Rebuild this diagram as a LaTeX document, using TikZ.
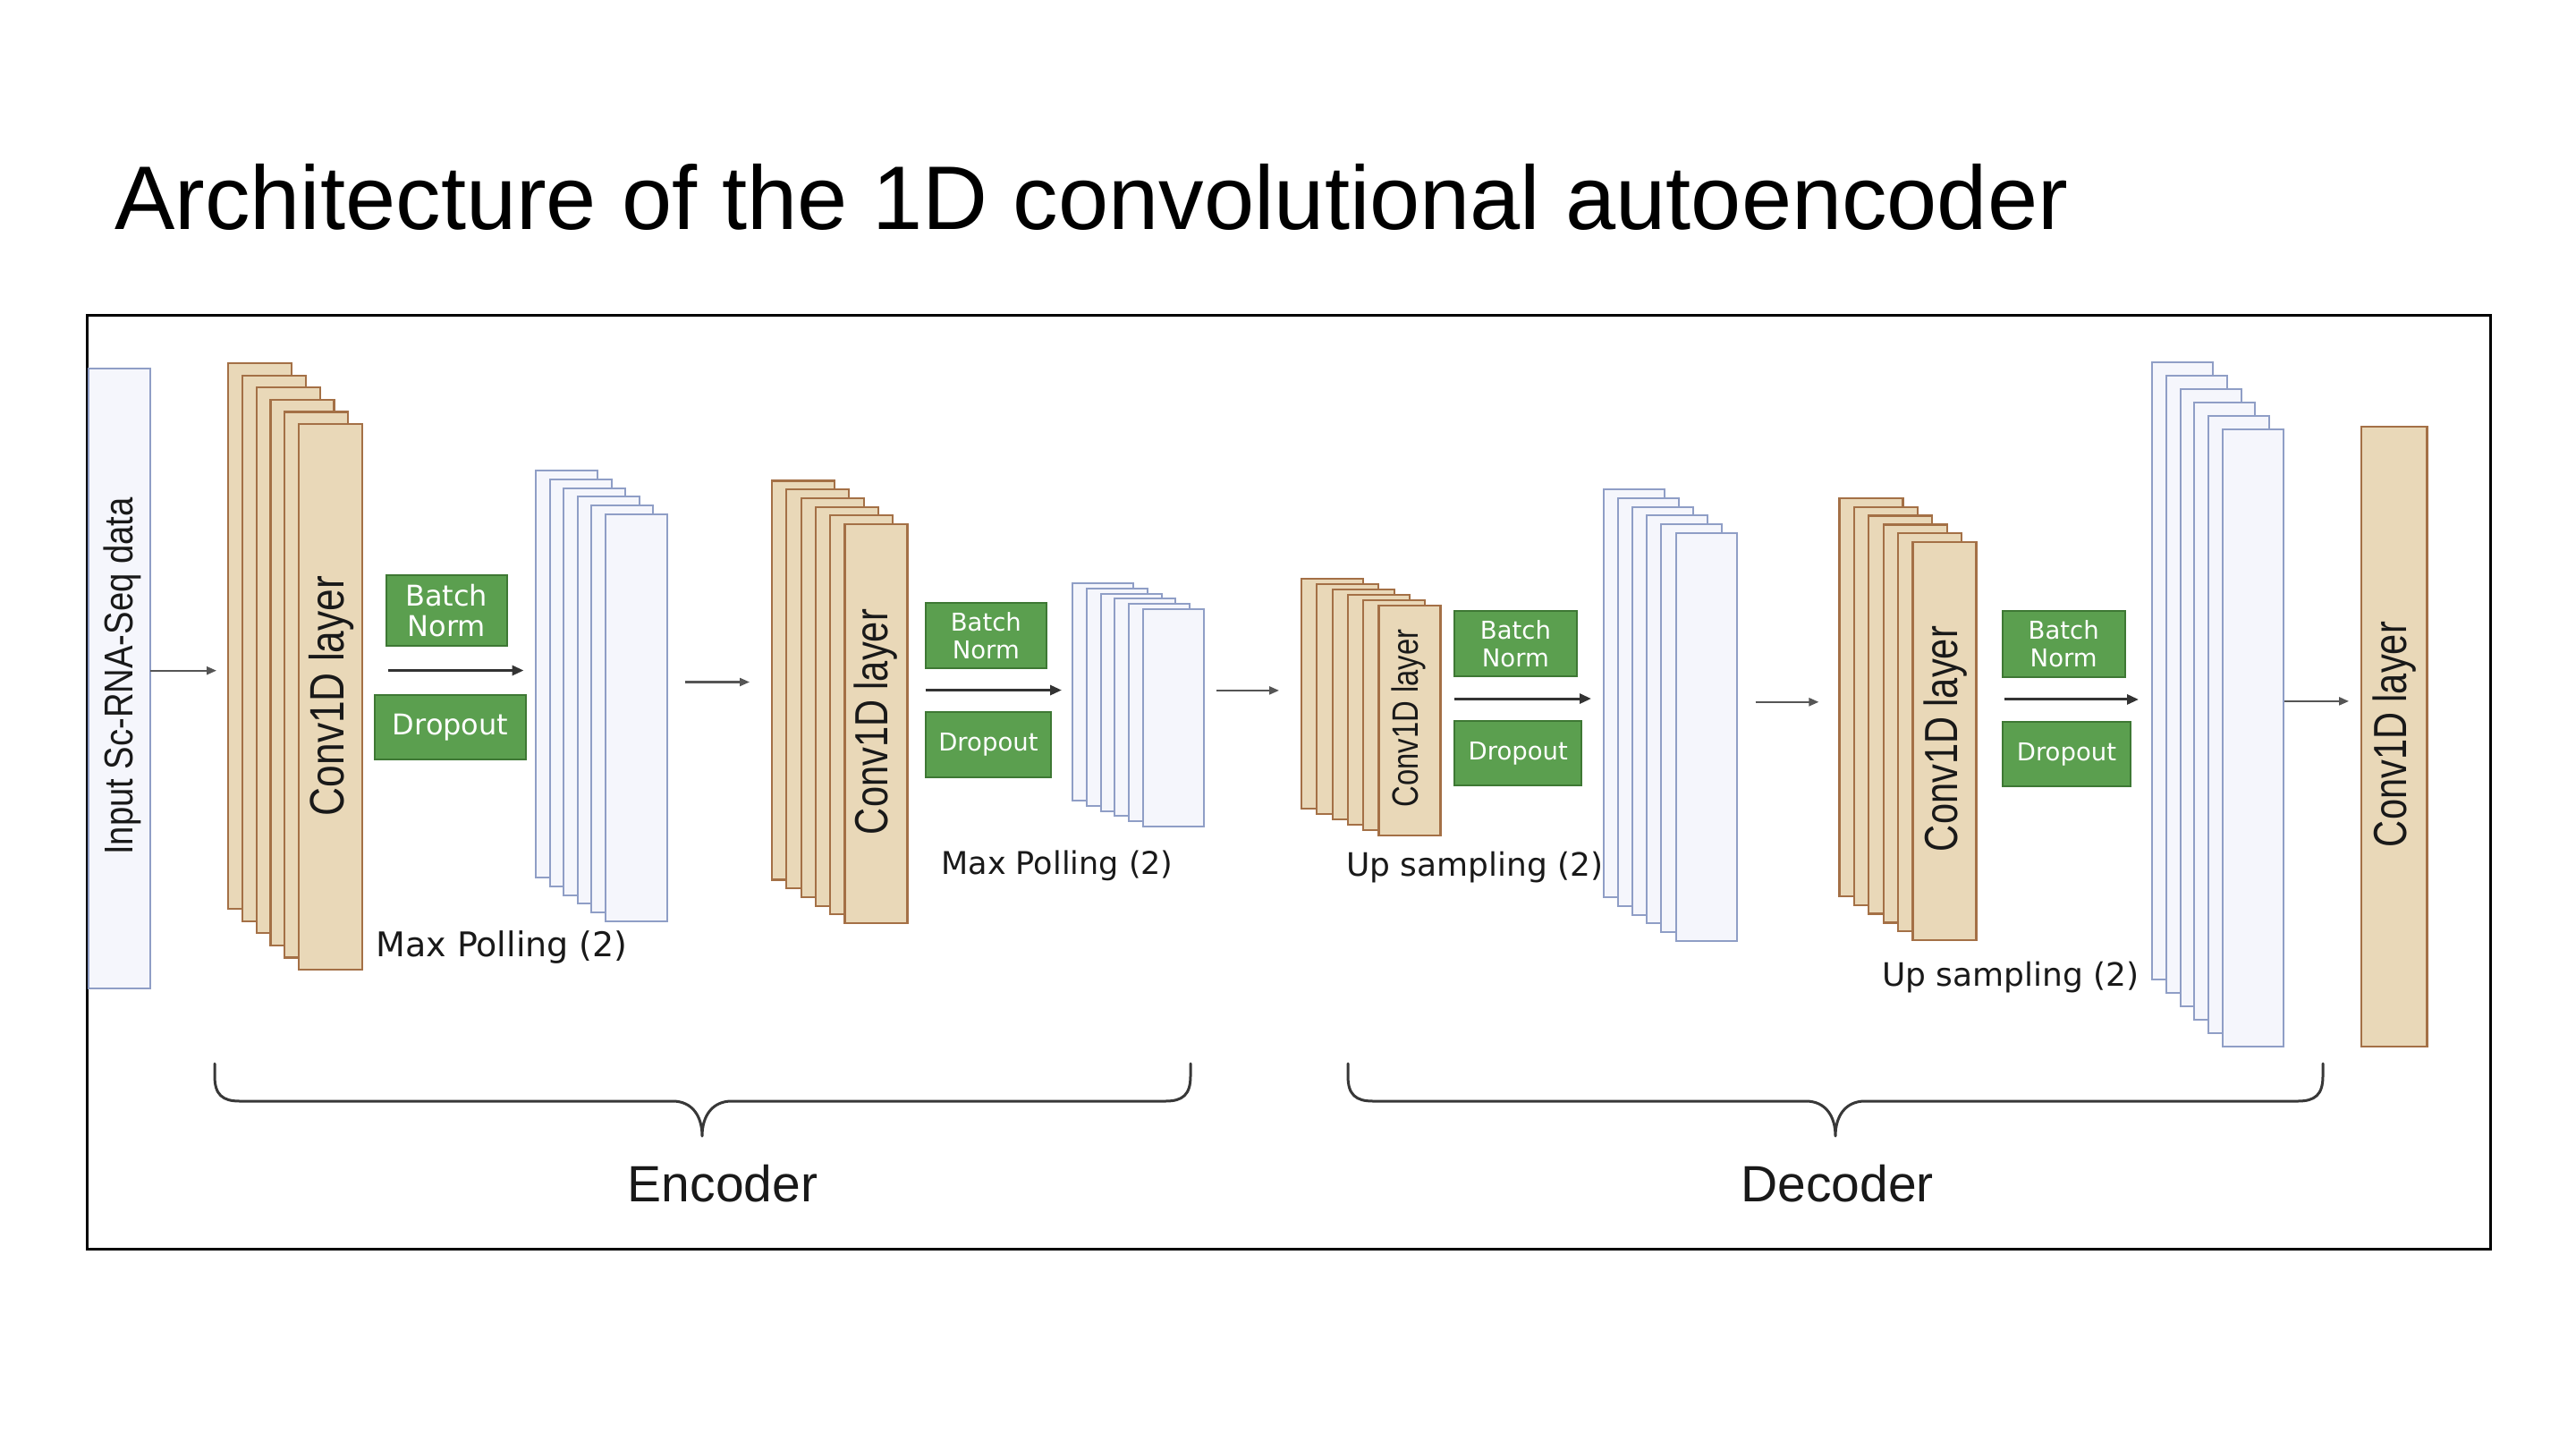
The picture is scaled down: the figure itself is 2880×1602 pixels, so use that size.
\documentclass[tikz,border=0pt]{standalone}
\usepackage{fontspec}
\setmainfont{Liberation Sans}
\newfontfamily\dv{DejaVu Sans}
\usetikzlibrary{arrows.meta,calc}
\definecolor{beigeF}{RGB}{233,216,184}
\definecolor{beigeD}{RGB}{164,112,70}
\definecolor{blueF}{RGB}{245,246,252}
\definecolor{blueD}{RGB}{143,158,198}
\definecolor{greenF}{RGB}{91,159,79}
\definecolor{greenD}{RGB}{62,120,52}
\definecolor{arrC}{RGB}{51,51,51}
\definecolor{arrL}{RGB}{85,85,85}
\definecolor{txtC}{RGB}{25,25,25}
\tikzset{
  convlay/.style={draw=beigeD, fill=beigeF, line width=2.2bp, inner sep=0pt, outer sep=0pt},
  poollay/.style={draw=blueD, fill=blueF, line width=2bp, inner sep=0pt, outer sep=0pt},
  greenbox/.style={draw=greenD, fill=greenF, line width=2bp, inner sep=0pt, outer sep=0pt, text=white, align=center},
  arrin/.style={draw=arrC, line width=3bp, -{Triangle[length=13bp,width=11bp]}},
  arrout/.style={draw=arrL, line width=2.2bp, -{Triangle[length=11bp,width=9bp]}},
  bracepath/.style={draw=black!78, line width=3bp, line cap=round, line join=round},
  vlabel/.style={rotate=90, text=txtC, inner sep=0pt},
  caption/.style={text=txtC, inner sep=0pt, font=\dv\fontsize{36bp}{40bp}\selectfont},
}
\newcommand\mkstack[8]{%
  \foreach \i in {1,...,6}{%
    \node[#8, minimum width=#6bp, minimum height=#7bp, anchor=north west] (#1\i) at ({#2+(\i-1)*#4},{#3+(\i-1)*#5}) {};
  }%
}
\begin{document}
\begin{tikzpicture}[x=1bp,y=-1bp]
\fill[white] (0,0) rectangle (2880,1602);
\useasboundingbox (0,0) rectangle (2880,1602);

% title
\node[anchor=base west, inner sep=0pt] (title) at (128,256) {\fontsize{101bp}{120bp}\selectfont Architecture of the 1D convolutional autoencoder};

% frame
\node[draw=black, line width=2.5bp, minimum width=2687bp, minimum height=1044bp, anchor=north west, inner sep=0pt] (frame) at (96,351) {};

% input
\node[poollay, minimum width=69bp, minimum height=693bp] (inp) at (133.5,758.5) {};
\node[vlabel] (tin) at (137,756) {\scalebox{0.85}[1]{\fontsize{45bp}{50bp}\selectfont Input Sc-RNA-Seq data}};

% stacks
\mkstack{convA}{255}{406}{15.8}{13.6}{71}{610}{convlay}
\mkstack{poolA}{599}{526}{15.6}{9.8}{69}{455}{poollay}
\mkstack{convB}{863}{537.5}{16.3}{9.7}{70}{446}{convlay}
\mkstack{poolB}{1199}{652}{15.8}{5.8}{68}{243}{poollay}
\mkstack{convC}{1455}{646.7}{17.3}{6.1}{69}{257}{convlay}
\mkstack{poolC}{1793}{547}{16.1}{9.8}{68}{456}{poollay}
\mkstack{convD}{2056.4}{556.7}{16.4}{9.9}{71}{445}{convlay}
\mkstack{poolD}{2406}{405}{15.8}{14.9}{68}{690}{poollay}

% final conv
\node[convlay, minimum width=73.5bp, minimum height=693bp] (fin) at (2676.8,823.2) {};

% conv labels
\node[vlabel] (tA) at (371,778) {\scalebox{0.82}[1]{\fontsize{54bp}{60bp}\selectfont Conv1D layer}};
\node[vlabel] (tB) at (979,807) {\scalebox{0.8}[1]{\fontsize{52bp}{60bp}\selectfont Conv1D layer}};
\node[vlabel] (tC) at (1575,803) {\scalebox{0.8}[1]{\fontsize{41bp}{46bp}\selectfont Conv1D layer}};
\node[vlabel] (tD) at (2175,826) {\scalebox{0.8}[1]{\fontsize{52bp}{60bp}\selectfont Conv1D layer}};
\node[vlabel] (tE) at (2677,821) {\scalebox{0.8}[1]{\fontsize{52bp}{60bp}\selectfont Conv1D layer}};

% green boxes
\node[greenbox, minimum width=135.3bp, minimum height=79bp, font=\dv\fontsize{32bp}{34bp}\selectfont] (bnA) at (499.2,682.5) {Batch\\Norm};
\node[greenbox, minimum width=168.3bp, minimum height=71.7bp, font=\dv\fontsize{32bp}{34bp}\selectfont] (doA) at (503.6,812.9) {Dropout};
\node[greenbox, minimum width=135.2bp, minimum height=73.7bp, font=\dv\fontsize{27.5bp}{31bp}\selectfont] (bnB) at (1102.3,710.5) {Batch\\Norm};
\node[greenbox, minimum width=140.3bp, minimum height=73.7bp, font=\dv\fontsize{27.5bp}{31bp}\selectfont] (doB) at (1104.9,832.6) {Dropout};
\node[greenbox, minimum width=136.7bp, minimum height=72.7bp, font=\dv\fontsize{27.5bp}{31bp}\selectfont] (bnC) at (1694.4,719.7) {Batch\\Norm};
\node[greenbox, minimum width=142.3bp, minimum height=72.3bp, font=\dv\fontsize{27.5bp}{31bp}\selectfont] (doC) at (1697.2,842.2) {Dropout};
\node[greenbox, minimum width=136.7bp, minimum height=73.7bp, font=\dv\fontsize{27.5bp}{31bp}\selectfont] (bnD) at (2307.2,719.9) {Batch\\Norm};
\node[greenbox, minimum width=143.1bp, minimum height=72.3bp, font=\dv\fontsize{27.5bp}{31bp}\selectfont] (doD) at (2310.4,843.3) {Dropout};

% captions
\node[caption, font=\dv\fontsize{38bp}{42bp}\selectfont] (mpA) at (561,1059) {Max Polling (2)};
\node[caption, font=\dv\fontsize{35bp}{40bp}\selectfont] (mpB) at (1182,968) {Max Polling (2)};
\node[caption] (usA) at (1649,970) {Up sampling (2)};
\node[caption] (usB) at (2248,1093) {Up sampling (2)};

% arrow levels
\coordinate (l0) at (0,749.7);
\coordinate (l1) at (0,762.5);
\coordinate (l2) at (0,771.9);
\coordinate (l3) at (0,784.8);
\coordinate (l4) at (0,783.9);
\coordinate (mA) at ($(bnA.south)!0.5!(doA.north)$);
\coordinate (mB) at ($(bnB.south)!0.5!(doB.north)$);
\coordinate (mC) at ($(bnC.south)!0.5!(doC.north)$);
\coordinate (mD) at ($(bnD.south)!0.5!(doD.north)$);

% between-block arrows
\draw[arrout, shorten >=13bp] (l0 -| inp.east) -- (l0 -| convA1.west);
\draw[arrout, shorten <=20bp, shorten >=25bp] (l1 -| poolA6.east) -- (l1 -| convB1.west);
\draw[arrout, shorten <=14bp, shorten >=25bp] (l2 -| poolB6.east) -- (l2 -| convC1.west);
\draw[arrout, shorten <=21bp, shorten >=23bp] (l3 -| poolC6.east) -- (l3 -| convD1.west);
\draw[arrout, shorten <=1bp, shorten >=14bp] (l4 -| poolD6.east) -- (l4 -| fin.west);

% in-block arrows
\draw[arrin, shorten <=2bp, shorten >=13.5bp] (mA -| bnA.west) -- (mA -| poolA1.west);
\draw[arrin, shorten >=12bp] (mB -| bnB.west) -- (mB -| poolB1.west);
\draw[arrin, shorten >=14bp] (mC -| bnC.west) -- (mC -| poolC1.west);
\draw[arrin, shorten <=2bp, shorten >=15bp] (mD -| bnD.west) -- (mD -| poolD1.west);

% braces
\draw[bracepath] (240,1189) -- (240,1203) .. controls (240,1224) and (249,1231) .. (268,1231)
  -- (752,1231) .. controls (774,1231) and (785,1248) .. (785,1270)
  .. controls (785,1248) and (796,1231) .. (818,1231)
  -- (1303,1231) .. controls (1322,1231) and (1331,1224) .. (1331,1203) -- (1331,1189);
\draw[bracepath] (1507,1189) -- (1507,1203) .. controls (1507,1224) and (1516,1231) .. (1535,1231)
  -- (2019,1231) .. controls (2041,1231) and (2052,1248) .. (2052,1270)
  .. controls (2052,1248) and (2063,1231) .. (2085,1231)
  -- (2569,1231) .. controls (2588,1231) and (2597,1224) .. (2597,1203) -- (2597,1189);
\node[caption, font=\fontsize{57bp}{62bp}\selectfont] (enc) at (808,1323) {Encoder};
\node[caption, font=\fontsize{57bp}{62bp}\selectfont] (dec) at (2054,1323) {Decoder};
\end{tikzpicture}
\end{document}
